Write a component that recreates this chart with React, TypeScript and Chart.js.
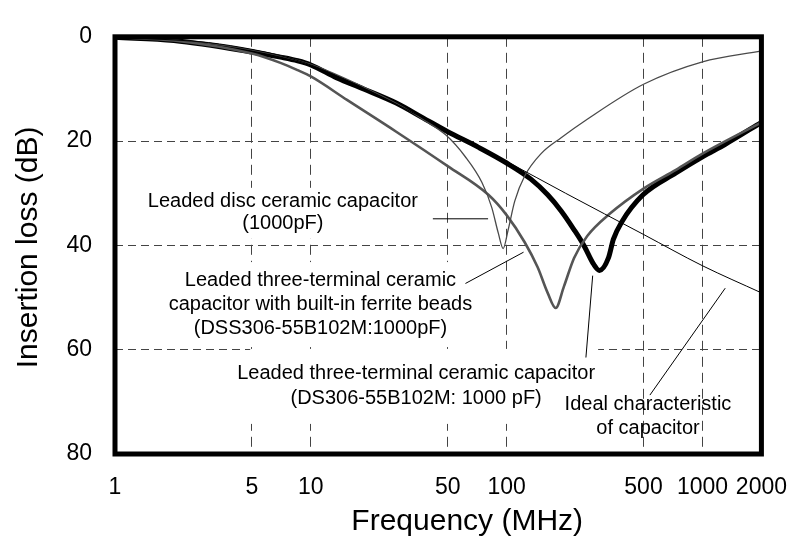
import React, { useEffect, useRef } from 'react';
import { Chart, registerables } from 'chart.js';

Chart.register(...registerables);

// ---- data (frequency in MHz, insertion loss in dB) ----
const xTickValues = [1, 5, 10, 50, 100, 500, 1000, 2000];
const yTickStep = 20;

const idealFreq = [1, 2, 3, 5, 7, 10, 15, 20, 30, 50, 72, 100, 200, 500, 1000, 2000];
const idealLoss = [0.1, 0.6, 1.1, 2.4, 3.6, 5.4, 8.2, 10.4, 13.7, 18, 21.1, 23.9, 30, 37.9, 43.9, 49.1];

const discFreq = [1, 2, 5, 10, 20, 30, 37.2, 48.8, 61.5, 74.7, 83.9, 90.6, 96, 101.8, 110, 123.6, 150, 189, 258, 500, 1000, 2000];
const discLoss = [0.1, 0.6, 2.5, 5.3, 10.2, 13.6, 15.8, 18.8, 23, 27.9, 32.7, 37.6, 40.6, 37, 31.5, 26.7, 22.4, 19.4, 15.8, 9.1, 4.8, 2.7];

const ferriteFreq = [1, 2, 5, 7, 8.56, 10, 15.3, 27.3, 50, 80.7, 100, 123.6, 144, 162, 178, 196, 221, 258, 337, 500, 732, 1000, 2000];
const ferriteLoss = [0.1, 0.7, 3.2, 5.0, 6.4, 7.6, 12.1, 18.2, 24.8, 30.3, 34.2, 39.4, 44.2, 49.1, 52, 47.9, 42.4, 38.2, 33.9, 29.1, 25.5, 22.4, 16.4];

const ds306Freq = [1, 2, 5, 7, 8.56, 10, 13.6, 18.6, 27.3, 37.2, 50, 71.9, 100, 133, 162, 189, 221, 248, 278, 298, 331, 351, 387, 497, 732, 1000, 1308, 2000];
const ds306Loss = [0.1, 0.7, 2.9, 3.9, 4.6, 5.4, 7.9, 10, 12.7, 15.5, 18.2, 21.2, 24.2, 27.3, 30.3, 33.3, 37, 40, 43.6, 44.8, 42.4, 38.8, 35.5, 30.3, 26.1, 23, 20.6, 16.4];

// ---- annotations (anchored in data coordinates) ----
const labelTexts = [
  ['Leaded disc ceramic capacitor', '(1000pF)'],
  ['Leaded three-terminal ceramic', 'capacitor with built-in ferrite beads', '(DSS306-55B102M:1000pF)'],
  ['Leaded three-terminal ceramic capacitor', '(DS306-55B102M: 1000 pF)'],
  ['Ideal characteristic', 'of capacitor'],
];
const labelFreq = [7.2, 11.2, 34.5, 527];
const labelLoss = [32.6, 47.8, 65.6, 71.5];

const leaderStartFreq = [42, 61.6, 254, 539];
const leaderStartLoss = [34.9, 47.3, 61.5, 68.7];
const leaderEndFreq = [80.4, 122, 275, 1307];
const leaderEndLoss = [34.9, 41.3, 45.8, 48.2];

// ---- styles for annotations ----
const labelLineHeight = [22, 24, 25, 24];
const labelBoxed = [true, true, true, false];
const labelBoxPadTop = [19, 24, 30, 0];
const labelBoxPadBottom = [10, 13, 20, 0];
const labelBoxInsetLeft = [0, 0, 16, 0];

const FONT = "'Liberation Sans', Arial, Helvetica, sans-serif";

const toPoints = (xs: number[], ys: number[]) => xs.map((x, i) => ({ x, y: ys[i] }));

const overlayPlugin = {
  id: 'overlay',
  beforeDatasetsDraw(chart: any) {
    const { ctx, scales } = chart;
    const xs = scales.x;
    const ys = scales.y;
    ctx.save();
    ctx.font = `20px ${FONT}`;
    ctx.textAlign = 'center';
    ctx.textBaseline = 'alphabetic';
    labelTexts.forEach((lines, i) => {
      const lh = labelLineHeight[i];
      const cx = xs.getPixelForValue(labelFreq[i]);
      const by = ys.getPixelForValue(labelLoss[i]);
      if (labelBoxed[i]) {
        const w = Math.max(...lines.map((l) => ctx.measureText(l).width));
        const left = cx - w / 2 - 3 + labelBoxInsetLeft[i];
        const right = cx + w / 2 + 3;
        const top = by - labelBoxPadTop[i];
        const bottom = by + (lines.length - 1) * lh + labelBoxPadBottom[i];
        ctx.fillStyle = '#fff';
        ctx.fillRect(left, top, right - left, bottom - top);
      }
      ctx.fillStyle = '#000';
      lines.forEach((l, j) => ctx.fillText(l, cx, by + j * lh));
    });
    ctx.restore();
  },
  afterDatasetsDraw(chart: any) {
    const { ctx, scales, chartArea } = chart;
    const xs = scales.x;
    const ys = scales.y;
    ctx.save();
    ctx.strokeStyle = '#000';
    ctx.lineWidth = 1;
    leaderStartFreq.forEach((f, i) => {
      ctx.beginPath();
      ctx.moveTo(xs.getPixelForValue(f), ys.getPixelForValue(leaderStartLoss[i]));
      ctx.lineTo(xs.getPixelForValue(leaderEndFreq[i]), ys.getPixelForValue(leaderEndLoss[i]));
      ctx.stroke();
    });
    ctx.lineWidth = 5;
    ctx.strokeRect(chartArea.left, chartArea.top, chartArea.right - chartArea.left, chartArea.bottom - chartArea.top);
    ctx.restore();
  },
  afterDraw(chart: any) {
    const { ctx, chartArea } = chart;
    ctx.save();
    ctx.fillStyle = '#000';
    ctx.font = `30px ${FONT}`;
    ctx.textAlign = 'center';
    ctx.textBaseline = 'alphabetic';
    const cx = (chartArea.left + chartArea.right) / 2 + 29;
    ctx.fillText('Frequency (MHz)', cx, chartArea.bottom + 76);
    ctx.translate(37, (chartArea.top + chartArea.bottom) / 2 + 2);
    ctx.rotate(-Math.PI / 2);
    ctx.fillText('Insertion loss (dB)', 0, 0);
    ctx.restore();
  },
};

export default function App() {
  const ref = useRef<HTMLCanvasElement>(null);
  useEffect(() => {
    const canvas = ref.current;
    if (!canvas) return;
    const lineCommon = { pointRadius: 0, fill: false, cubicInterpolationMode: 'monotone' };
    const chart = new Chart(canvas, {
      type: 'line',
      data: {
        datasets: [
          { label: 'Ideal characteristic of capacitor', data: toPoints(idealFreq, idealLoss), borderColor: '#000', borderWidth: 1, ...lineCommon },
          { label: 'Leaded disc ceramic capacitor (1000pF)', data: toPoints(discFreq, discLoss), borderColor: '#4a4a4a', borderWidth: 1.3, ...lineCommon },
          { label: 'DSS306-55B102M', data: toPoints(ferriteFreq, ferriteLoss), borderColor: '#555', borderWidth: 2.6, ...lineCommon },
          { label: 'DS306-55B102M', data: toPoints(ds306Freq, ds306Loss), borderColor: '#000', borderWidth: 5, ...lineCommon },
        ],
      },
      options: {
        responsive: false,
        animation: false,
        layout: { padding: { top: 14, right: 37, left: 0, bottom: 0 } },
        plugins: { legend: { display: false }, tooltip: { enabled: false } },
        scales: {
          x: {
            type: 'logarithmic',
            min: 1,
            max: 2000,
            afterBuildTicks: (s: any) => {
              s.ticks = xTickValues.map((v) => ({ value: v }));
            },
            afterFit: (s: any) => {
              s.height = 90;
            },
            ticks: {
              autoSkip: false,
              maxRotation: 0,
              minRotation: 0,
              padding: 20,
              color: '#000',
              font: { family: FONT, size: 23 },
              callback: (v: any) => String(v),
            },
            grid: { color: '#444', lineWidth: 1, drawTicks: false },
            border: { display: false, dash: [10, 6] },
          },
          y: {
            type: 'linear',
            min: 0,
            max: 80,
            reverse: true,
            afterFit: (s: any) => {
              s.width = 115;
            },
            ticks: {
              stepSize: yTickStep,
              padding: 23,
              color: '#000',
              font: { family: FONT, size: 23 },
            },
            grid: { color: '#444', lineWidth: 1, drawTicks: false },
            border: { display: false, dash: [8, 5] },
          },
        },
      },
      plugins: [overlayPlugin],
    } as any);
    return () => chart.destroy();
  }, []);
  return (
    <div style={{ position: 'absolute', left: 0, top: 0, width: 807, height: 544, background: '#fff' }}>
      <canvas ref={ref} width={807} height={544} style={{ display: 'block' }} />
    </div>
  );
}
